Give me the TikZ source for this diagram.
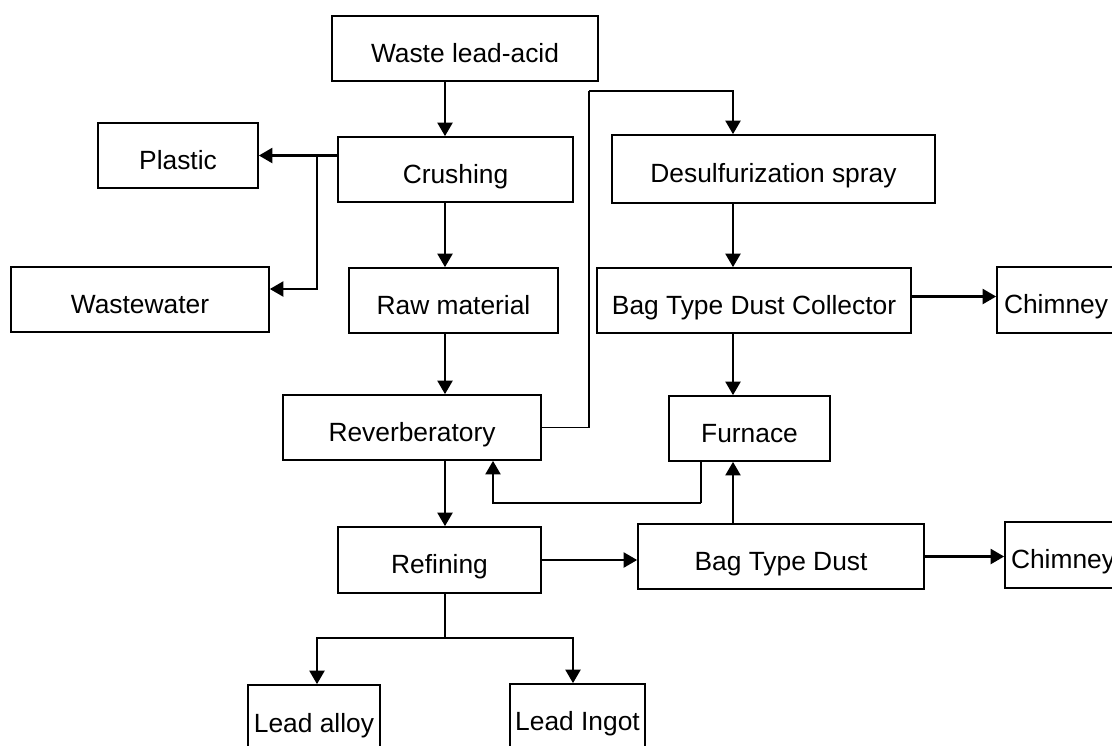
\documentclass[tikz,border=0pt]{standalone}
\usepackage{fontspec}
\setmainfont{Liberation Sans}
\usetikzlibrary{arrows.meta}
\begin{document}
\begin{tikzpicture}[x=0.02cm,y=-0.02cm,
    box/.style={draw,line width=1pt,rectangle,inner sep=2pt,minimum height=1.3cm,
      text height=0.54cm,text depth=0cm,font=\fontsize{15}{18}\selectfont},
    arr/.style={line width=1.3pt,-{Triangle[length=0.27cm,width=0.3cm]}},
    link/.style={line width=0.8pt}]
  \useasboundingbox (0,0) rectangle (1112,745);
  \clip (0,0) rectangle (1112,745);
  \path
    (465,48.5) node[box,minimum width=5.32cm] (waste){Waste lead-acid}
    (455.5,169.5) node[box,minimum width=4.70cm] (crushing){Crushing}
    (178,155.5) node[box,minimum width=3.20cm] (plastic){Plastic}
    (140,299.5) node[box,minimum width=5.16cm] (wastewater){Wastewater}
    (453.5,300.5) node[box,minimum width=4.18cm] (raw){Raw material}
    (773.5,169) node[box,minimum width=6.46cm,minimum height=1.36cm] (desulf){Desulfurization spray}
    (754,300.5) node[box,minimum width=6.28cm] (collector){Bag Type Dust Collector}
    (1056,300) node[box,minimum width=2.36cm,minimum height=1.32cm] (chimneyA){Chimney}
    (412,427.5) node[box,minimum width=5.16cm] (reverb){Reverberatory}
    (749.5,428.5) node[box,minimum width=3.22cm] (furnace){Furnace}
    (439.5,560) node[box,minimum width=4.06cm,minimum height=1.32cm] (refining){Refining}
    (781,556.5) node[box,minimum width=5.72cm] (bagdust){Bag Type Dust}
    (1063,555) node[box,minimum width=2.32cm,minimum height=1.32cm] (chimneyB){Chimney}
    (314,719) node[box,minimum width=2.64cm,minimum height=1.36cm] (alloy){Lead alloy}
    (577.5,717) node[box,minimum width=2.70cm,minimum height=1.32cm] (ingot){Lead Ingot};
  % turning points of the connectors
  \coordinate (spine) at (445,0);
  \coordinate (gas) at (733,0);
  \coordinate (split) at (317,157);
  \coordinate (loopup) at (589,91);
  \coordinate (backdown) at (701,503);
  \coordinate (backx) at (493,0);
  \coordinate (fork) at (445,638);
  \begin{scope}[arr]
    \draw (spine |- waste.south) to (spine |- crushing.north);
    \draw (crushing.west |- plastic.east) to (plastic.east);
    \draw (split) |- ([yshift=0.21cm]wastewater.east);
    \draw (spine |- crushing.south) to (spine |- raw.north);
    \draw (spine |- raw.south) to (spine |- reverb.north);
    \draw (loopup) -| (gas |- desulf.north);
    \draw (gas |- desulf.south) to (gas |- collector.north);
    \draw ([yshift=0.08cm]collector.east) to ([yshift=0.08cm]collector.east -| chimneyA.west);
    \draw (gas |- collector.south) to (gas |- furnace.north);
    \draw (backdown) -| (backx |- reverb.south);
    \draw (spine |- reverb.south) to (spine |- refining.north);
    \draw (refining.east) to (refining.east -| bagdust.west);
    \draw (gas |- bagdust.north) to (gas |- furnace.south);
    \draw (bagdust.east) to (bagdust.east -| chimneyB.west);
    \draw (fork) -| ([xshift=0.06cm]alloy.north);
    \draw (fork) -| ([xshift=-0.09cm]ingot.north);
  \end{scope}
  \begin{scope}[link]
    \draw (reverb.east) -| (loopup);
    \draw (backdown |- furnace.south) to (backdown);
    \draw (spine |- refining.south) to (fork);
  \end{scope}
\end{tikzpicture}
\end{document}
